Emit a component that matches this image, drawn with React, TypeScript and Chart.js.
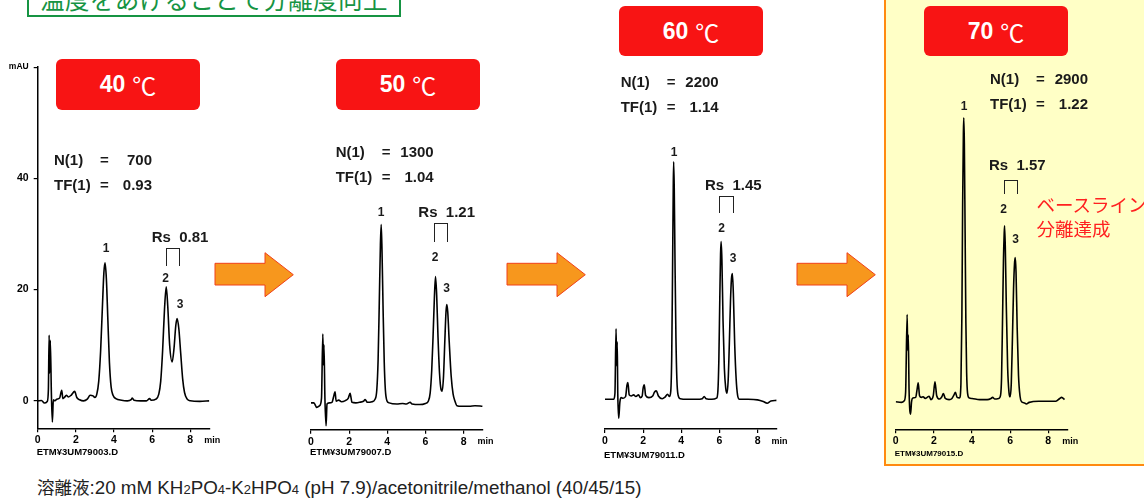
import React, { useEffect, useRef } from "react";
import { Chart, registerables } from "chart.js";

Chart.register(...registerables);

// ---------------- data ----------------
const timeTicks = [0, 2, 4, 6, 8];
const mauTicks = [0, 20, 40, 60];

const time40 = [0, 0.2, 0.35, 0.5, 0.56, 0.6, 0.63, 0.66, 0.72, 0.77, 0.82, 0.9, 1.0, 1.15, 1.26, 1.32, 1.4, 1.5, 1.6, 1.75, 1.94, 2.05, 2.2, 2.4, 2.6, 2.75, 2.9, 3.0, 3.1, 3.2, 3.3, 3.4, 3.47, 3.53, 3.6, 3.68, 3.76, 3.85, 3.95, 4.1, 4.4, 4.7, 4.9, 4.96, 5.05, 5.4, 5.7, 5.87, 5.95, 6.2, 6.35, 6.45, 6.55, 6.65, 6.74, 6.82, 6.92, 7.05, 7.15, 7.24, 7.31, 7.4, 7.5, 7.6, 7.7, 7.84, 8.0, 8.5, 9.0];
const mau40 = [0, 0.05, -0.4, -0.1, 2, 11.8, 5, 10.9, 1, -3.8, 0.2, 0, 0.3, 0.5, 1.9, 0.4, 0.6, 1.0, 0.7, 1.0, 1.7, 0.6, 0.2, 0, 0.3, 1.0, 0.9, 0.6, 1.2, 3.5, 9, 17.5, 23, 24.8, 22, 14.5, 7, 2.5, 1.0, 0.4, 0.1, 0, 0.2, 0.5, 0.1, 0, 0, 0.4, 0.1, 0.3, 1.2, 3.5, 9, 16.5, 20.5, 17, 10, 7.0, 9.5, 13.5, 14.8, 13, 8.5, 4, 1.5, 0.3, 0, -0.1, 0];

const time50 = [0, 0.15, 0.3, 0.45, 0.55, 0.62, 0.65, 0.68, 0.73, 0.79, 0.84, 0.95, 1.1, 1.2, 1.26, 1.32, 1.45, 1.6, 1.8, 1.95, 2.05, 2.15, 2.35, 2.55, 2.75, 2.84, 2.95, 3.2, 3.35, 3.45, 3.52, 3.58, 3.64, 3.68, 3.72, 3.78, 3.84, 3.9, 3.98, 4.1, 4.5, 4.8, 5.0, 5.2, 5.3, 5.7, 6.0, 6.15, 6.25, 6.33, 6.4, 6.47, 6.53, 6.59, 6.66, 6.74, 6.82, 6.88, 6.95, 7.02, 7.08, 7.12, 7.17, 7.25, 7.35, 7.45, 7.55, 7.65, 7.9, 8.3, 8.6, 9.0];
const mau50 = [0.2, 0.2, -0.6, -0.3, 1, 12.5, 7, 10.6, 1, -3.9, 0, 0.2, 0.3, 1.5, 2.2, 0.5, 0.7, 0.4, 0.6, 1.0, 1.9, 0.3, 0.2, 0.3, 0.5, 0.8, 0.3, 0.4, 0.8, 2.5, 8, 18, 28.5, 32.1, 28, 17, 7.5, 2.5, 0.6, 0.2, 0, 0.1, 0, 0.3, 0, -0.1, 0.1, 0.5, 2, 6, 12, 19, 22.8, 19.5, 12, 5.5, 2.6, 2.3, 5, 11.5, 16.5, 17.8, 16.5, 11, 5, 1.8, 0.5, -0.3, -0.4, -0.4, -0.3, -0.4];

const time60 = [0, 0.3, 0.45, 0.52, 0.58, 0.61, 0.64, 0.67, 0.72, 0.78, 0.85, 0.95, 1.08, 1.15, 1.2, 1.27, 1.38, 1.5, 1.62, 1.76, 1.85, 1.95, 2.0, 2.06, 2.13, 2.3, 2.5, 2.6, 2.69, 2.8, 3.0, 3.15, 3.28, 3.38, 3.45, 3.5, 3.54, 3.58, 3.6, 3.63, 3.67, 3.72, 3.77, 3.83, 3.95, 4.3, 4.8, 5.1, 5.2, 5.3, 5.6, 5.85, 5.92, 5.97, 6.02, 6.06, 6.09, 6.13, 6.19, 6.26, 6.33, 6.4, 6.46, 6.52, 6.58, 6.63, 6.68, 6.73, 6.8, 6.88, 6.95, 7.05, 7.5, 8.0, 8.3, 8.5, 8.7, 9.0];
const mau60 = [0, 0, 0, 1, 12.6, 6, 10.3, 1, -3.4, -0.5, 0.3, 0.2, 0.5, 2.5, 3.0, 0.8, 0.6, 0.8, 0.5, 0.8, 0.3, 0.6, 2.0, 2.6, 0.7, 0.3, 0.6, 1.3, 1.5, 0.6, 0.1, 0.4, 0.9, 0.5, 1.5, 8, 22, 38, 42.5, 38, 25, 11, 3.5, 0.8, 0.1, 0, 0, 0.1, 0.5, 0.1, 0, 0.2, 1.5, 7, 18, 26, 28.2, 25, 14, 5.5, 2, 1.1, 3.5, 10, 17.5, 21.5, 22.5, 19, 10, 3.5, 0.8, 0, 0, -0.1, -0.4, -0.7, -0.3, -0.2];

const time70 = [0, 0.3, 0.45, 0.52, 0.6, 0.63, 0.66, 0.7, 0.78, 0.83, 0.9, 1.05, 1.12, 1.18, 1.25, 1.35, 1.44, 1.55, 1.65, 1.75, 1.85, 1.97, 2.06, 2.15, 2.3, 2.42, 2.5, 2.6, 2.8, 2.95, 3.05, 3.13, 3.22, 3.35, 3.42, 3.47, 3.51, 3.55, 3.57, 3.6, 3.64, 3.68, 3.72, 3.77, 3.85, 4.0, 4.4, 4.8, 5.0, 5.08, 5.2, 5.4, 5.5, 5.55, 5.6, 5.65, 5.69, 5.71, 5.75, 5.8, 5.87, 5.94, 6.0, 6.06, 6.12, 6.18, 6.23, 6.27, 6.31, 6.37, 6.44, 6.52, 6.6, 6.75, 6.85, 7.0, 7.5, 8.0, 8.4, 8.6, 8.7, 8.85];
const mau70 = [-0.2, -0.3, 0, 1.5, 15.4, 9, 11.8, 2, -2.4, -0.2, 0.5, 0.6, 2.0, 3.2, 0.9, 0.6, 0.7, 0.4, 0.6, 0.8, 0.2, 0.9, 3.4, 0.9, 0.3, 0.7, 1.3, 0.4, 0.2, 0.4, 1.0, 1.5, 0.6, 0.5, 3, 15, 35, 48, 50.6, 46, 30, 14, 5, 1.3, 0.5, 0.4, 0.2, 0.2, 0.4, 0.6, 0.3, 0.4, 1.0, 4, 14, 25, 30, 31.3, 27, 17, 6, 1.5, 0.7, 3, 11, 20, 24.5, 25.6, 23, 13, 4.5, 0.8, -0.2, -0.4, -0.6, -0.3, -0.1, -0.1, -0.1, 0.4, 0.6, 0.2];

const temperatures = ["40", "50", "60", "70"];
const plateCounts = ["700", "1300", "2200", "2900"];
const tailingFactors = ["0.93", "1.04", "1.14", "1.22"];
const resolutions = ["0.81", "1.21", "1.45", "1.57"];
const fileNames = ["ETM¥3UM79003.D", "ETM¥3UM79007.D", "ETM¥3UM79011.D", "ETM¥3UM79015.D"];
const peakNames = ["1", "2", "3"];
const traces = [
  [time40, mau40],
  [time50, mau50],
  [time60, mau60],
  [time70, mau70],
];

// ---------------- layout (page pixels) ----------------
const SANS = '"Liberation Sans", Arial, Helvetica, sans-serif';
const CJK = '"Noto Sans CJK JP", "Noto Sans CJK SC", sans-serif';
const PX_PER_MIN = 19.07;
const PX_PER_MAU = 5.59;
const X_MAX = 9;
const Y_MAX = 60;
const X_AXIS_H = 22;

const geo = [
  { L: 37.7, Z: 400.7, B: 428.3, showY: true,
    box: [56, 59, 144, 51], n: [54, 160, 185], rs: [151.7, 236.7], br: [166.3, 180.3, 248.3, 266],
    peaks: [[106, 248], [165.7, 278.3], [180, 304]], file: 451 },
  { L: 311, Z: 404, B: 429.7, showY: false,
    box: [336, 59, 144, 51], n: [335.7, 151.7, 176.7], rs: [418.3, 212.3], br: [434, 447.7, 222.7, 241.7],
    peaks: [[381, 211.7], [435, 257.3], [446.7, 288.3]], file: 451 },
  { L: 605, Z: 399.3, B: 429, showY: false,
    box: [619, 6, 144, 50], n: [620.7, 81.7, 106.7], rs: [705, 185], br: [719.3, 734, 195.7, 213.3],
    peaks: [[674, 151.7], [721.7, 227.7], [733, 257.7]], file: 454 },
  { L: 895.7, Z: 400.7, B: 429.3, showY: false,
    box: [924, 6, 144, 50], n: [990, 79, 104.3], rs: [989, 165], br: [1003.7, 1017.7, 180, 194.3],
    peaks: [[964, 106], [1003.7, 209], [1015.7, 239.3]], file: 452.7 },
];

const arrows = [215, 507, 797];

function Chromatogram({ g, times, values }: any) {
  const ref = useRef<HTMLCanvasElement>(null);
  const areaTop = g.Z - Y_MAX * PX_PER_MAU;
  const areaW = X_MAX * PX_PER_MIN;
  const cx = g.showY ? 0 : Math.floor(g.L) - 14;
  const yAxisW = g.L - cx;
  const cy = Math.floor(areaTop) - 8;
  const padTop = areaTop - cy;
  const areaH = g.B - areaTop;
  const h = Math.ceil(padTop + areaH + X_AXIS_H + 2);
  const padBottom = h - padTop - areaH - X_AXIS_H;
  const w = Math.ceil(yAxisW + areaW + 8);
  const padRight = w - yAxisW - areaW;
  const yMin = -(g.B - g.Z) / PX_PER_MAU;

  useEffect(() => {
    if (!ref.current) return;
    const chart = new Chart(ref.current, {
      type: "line",
      data: {
        datasets: [
          {
            data: times.map((t: number, i: number) => ({ x: t, y: values[i] })),
            borderColor: "#000",
            borderWidth: 1.6,
            pointRadius: 0,
            fill: false,
            cubicInterpolationMode: "monotone",
          },
        ],
      },
      options: {
        animation: false,
        responsive: false,
        maintainAspectRatio: false,
        devicePixelRatio: 1,
        layout: { padding: { top: padTop, right: padRight, bottom: padBottom, left: 0 } },
        plugins: { legend: { display: false }, tooltip: { enabled: false } },
        scales: {
          x: {
            type: "linear",
            min: 0,
            max: X_MAX,
            afterBuildTicks: (s: any) => {
              s.ticks = timeTicks.map((v) => ({ value: v }));
            },
            afterFit: (s: any) => {
              s.height = X_AXIS_H;
            },
            ticks: {
              color: "#000",
              padding: 2,
              maxRotation: 0,
              autoSkip: false,
              font: { family: SANS, size: 10.5, weight: "bold" },
            },
            grid: { display: true, drawOnChartArea: false, drawTicks: true, tickLength: 4, color: "#000", lineWidth: 1.2 },
            border: { display: true, color: "#000", width: 1.5 },
          },
          y: {
            type: "linear",
            min: yMin,
            max: Y_MAX,
            afterBuildTicks: (s: any) => {
              s.ticks = mauTicks.map((v) => ({ value: v }));
            },
            afterFit: (s: any) => {
              s.width = yAxisW;
            },
            ticks: {
              display: g.showY,
              color: "#000",
              padding: 5,
              callback: (v: any) => (v === 60 ? "mAU" : String(v)),
              font: (ctx: any) =>
                ctx.tick && ctx.tick.value === 60
                  ? { family: SANS, size: 8.5, weight: "bold" }
                  : { family: SANS, size: 10.5, weight: "bold" },
            },
            grid: { display: g.showY, drawOnChartArea: false, drawTicks: true, tickLength: 4, color: "#000", lineWidth: 1.2 },
            border: { display: g.showY, color: "#000", width: 1.5 },
          },
        },
      },
    } as any);
    return () => chart.destroy();
  }, []);

  return (
    <canvas
      ref={ref}
      width={w}
      height={h}
      style={{ position: "absolute", left: cx, top: cy, width: w, height: h }}
    />
  );
}

const abs = (x: number, y: number, extra: any = {}) => ({
  position: "absolute" as const,
  left: x,
  top: y,
  whiteSpace: "pre" as const,
  ...extra,
});

function Panel({ i }: { i: number }) {
  const g = geo[i];
  const [bx, by, bw, bh] = g.box;
  const [nx, ny1, ny2] = g.n;
  const textStyle = { fontFamily: SANS, fontWeight: "bold", fontSize: 15, color: "#1a1a1a", lineHeight: "18px" };
  return (
    <>
      <Chromatogram g={g} times={traces[i][0]} values={traces[i][1]} />
      <div
        style={abs(bx, by, {
          width: bw,
          height: bh,
          background: "#f81414",
          borderRadius: 6,
          display: "flex",
          alignItems: "center",
          justifyContent: "center",
          color: "#fff",
        })}
      >
        <span style={{ fontFamily: SANS, fontWeight: "bold", fontSize: 23 }}>{temperatures[i]}</span>
        <span style={{ fontFamily: CJK, fontSize: 24, marginLeft: 7 }}>℃</span>
      </div>
      <div style={abs(nx, ny1 - 9, textStyle)}>N(1)</div>
      <div style={abs(nx + 46, ny1 - 9, textStyle)}>=</div>
      <div style={abs(nx + 56, ny1 - 9, { ...textStyle, width: 42, textAlign: "right" })}>{plateCounts[i]}</div>
      <div style={abs(nx, ny2 - 9, textStyle)}>TF(1)</div>
      <div style={abs(nx + 46, ny2 - 9, textStyle)}>=</div>
      <div style={abs(nx + 56, ny2 - 9, { ...textStyle, width: 42, textAlign: "right" })}>{tailingFactors[i]}</div>
      <div style={abs(g.rs[0], g.rs[1] - 9, textStyle)}>{"Rs  " + resolutions[i]}</div>
      <div
        style={abs(g.br[0], g.br[2], {
          width: g.br[1] - g.br[0],
          height: g.br[3] - g.br[2],
          borderTop: "1.5px solid #222",
          borderLeft: "1.5px solid #222",
          borderRight: "1.5px solid #222",
          boxSizing: "border-box",
        })}
      />
      {g.peaks.map((p, k) => (
        <div
          key={k}
          style={abs(p[0], p[1], {
            transform: "translate(-50%, -50%)",
            fontFamily: SANS,
            fontWeight: "bold",
            fontSize: 12,
            color: "#1a1a1a",
            lineHeight: "14px",
          })}
        >
          {peakNames[k]}
        </div>
      ))}
      <div
        style={abs(g.L + 166.5, g.B + 11.5, {
          transform: "translateY(-50%)",
          fontFamily: SANS,
          fontWeight: "bold",
          fontSize: 9,
          color: "#000",
          lineHeight: "11px",
        })}
      >
        min
      </div>
      <div
        style={abs(g.L - 1, g.file, {
          transform: "translateY(-50%)",
          fontFamily: SANS,
          fontWeight: "bold",
          fontSize: i === 3 ? 8 : 9.5,
          color: "#000",
          lineHeight: "11px",
        })}
      >
        {fileNames[i]}
      </div>
    </>
  );
}

export default function App() {
  return (
    <div
      style={{
        position: "absolute",
        left: 0,
        top: 0,
        width: 1144,
        height: 498,
        overflow: "hidden",
        background: "#fff",
      }}
    >
      {/* highlighted 70 °C panel */}
      <div
        style={{
          position: "absolute",
          left: 884,
          top: -10,
          width: 280,
          height: 476,
          background: "#ffffc6",
          border: "2.5px solid #ff8a10",
          boxSizing: "border-box",
        }}
      />
      {/* title box (cut off at the top) */}
      <div
        style={{
          position: "absolute",
          left: 27,
          top: -30,
          width: 374,
          height: 47,
          border: "2px solid #169443",
          boxSizing: "border-box",
        }}
      />
      <div
        style={abs(40, -14, {
          fontFamily: CJK,
          fontSize: 24.5,
          lineHeight: "25px",
          color: "#169443",
          letterSpacing: 0.4,
        })}
      >
        温度をあげることで分離度向上
      </div>
      {/* arrows */}
      <svg style={{ position: "absolute", left: 0, top: 0 }} width={1144} height={498}>
        {arrows.map((x, i) => (
          <polygon
            key={i}
            points={`${x},263.3 ${x + 50},263.3 ${x + 50},252.7 ${x + 78.3},274.7 ${x + 50},296.7 ${x + 50},285 ${x},285`}
            fill="#f7971d"
            stroke="#f0401a"
            strokeWidth={1}
          />
        ))}
      </svg>
      {[0, 1, 2, 3].map((i) => (
        <Panel key={i} i={i} />
      ))}
      <div style={abs(1036.5, 192, { fontFamily: CJK, fontSize: 18.5, lineHeight: "24px", color: "#ff2020" })}>
        {"ベースライン\n分離達成"}
      </div>
      <div
        style={abs(37, 475, {
          fontFamily: SANS,
          fontSize: 18.8,
          lineHeight: "24px",
          color: "#222",
        })}
      >
        <span style={{ fontFamily: CJK, fontSize: 17.5 }}>溶離液</span>:20 mM KH<span style={{ fontSize: 13 }}>2</span>PO
        <span style={{ fontSize: 13 }}>4</span>-K<span style={{ fontSize: 13 }}>2</span>HPO
        <span style={{ fontSize: 13 }}>4</span> (pH 7.9)/acetonitrile/methanol (40/45/15)
      </div>
    </div>
  );
}
